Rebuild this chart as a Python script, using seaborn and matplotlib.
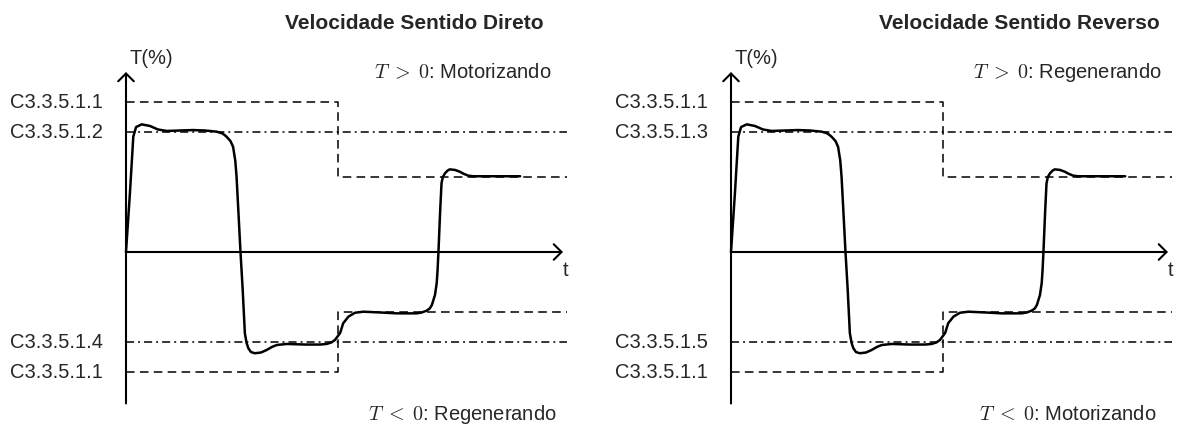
import matplotlib
matplotlib.use("Agg")
import matplotlib.pyplot as plt
import seaborn as sns
import pandas as pd

# --- torque response (t in arbitrary time units, T in %) ---
resp_t = [0.0, 0.9, 1.67, 2.3, 3.6, 5.5, 7.3, 9.3, 12.4, 15.3, 18.1, 20.8, 22.1, 23.0,
          23.9, 24.5, 25.0, 25.3, 25.7, 26.2, 26.7, 27.2, 27.6, 28.0, 28.6, 29.5, 30.9,
          32.2, 33.4, 34.5, 36.8, 41.0, 44.4, 45.9, 47.0, 47.8, 49.0, 49.7, 50.9, 52.4,
          54.3, 58.1, 61.9, 66.5, 67.7, 68.8, 69.5, 70.0, 70.7, 71.1, 71.3, 71.5, 71.9,
          72.2, 72.5, 73.0, 73.6, 74.1, 75.3, 76.4, 77.3, 78.3, 79.5, 90.2]
resp_T = [0.0, 39.3, 76.9, 83.3, 85.1, 84.0, 81.7, 80.7, 81.0, 81.3, 81.0, 80.2, 79.0, 76.9,
          74.0, 70.2, 61.0, 50.2, 28.0, 0.0, -25.0, -54.2, -60.7, -64.2, -66.7, -67.5, -67.0,
          -65.3, -63.3, -62.0, -61.3, -61.7, -61.7, -61.3, -60.3, -58.7, -54.0, -47.5, -43.1, -40.5,
          -39.8, -40.3, -40.9, -40.9, -40.3, -39.1, -37.7, -35.3, -28.7, -20.7, -12.0, 0.2, 28.0,
          45.8, 50.0, 52.5, 54.3, 55.1, 54.7, 53.5, 52.1, 50.9, 50.5, 50.5]

# --- limit levels (%) ---
lim_hi = 100.0        # torque limit, positive side
lim_hi_after = 50.0   # torque limit after the change
ref_hi = 80.0         # dash-dot reference, positive side
lim_lo = -80.0
lim_lo_after = -40.0
ref_lo = -60.0
t_change = 48.5
t_end = 101.0

panels = [
    {"title": "Velocidade Sentido Direto",
     "labels": ["C3.3.5.1.1", "C3.3.5.1.2", "C3.3.5.1.4", "C3.3.5.1.1"],
     "top": "Motorizando", "bottom": "Regenerando"},
    {"title": "Velocidade Sentido Reverso",
     "labels": ["C3.3.5.1.1", "C3.3.5.1.3", "C3.3.5.1.5", "C3.3.5.1.1"],
     "top": "Regenerando", "bottom": "Motorizando"},
]

sns.set_theme(style="white")
plt.rcParams["font.family"] = ["Liberation Sans", "DejaVu Sans"]
plt.rcParams["mathtext.fontset"] = "cm"
plt.rcParams["lines.scale_dashes"] = False

W, H = 1177, 424
PX_T, PX_P = 4.37, 1.5        # pixels per time unit / per percent
ORIGIN_X, ORIGIN_Y = 126, 252
fig = plt.figure(figsize=(W / 100, H / 100), dpi=100)
fig.patch.set_facecolor("white")

DASH = (0, (6.2, 3.8))
DASHDOT = (0, (5.8, 2.9, 1.4, 2.9))
FS = 14.5

for i, p in enumerate(panels):
    left_px = 0 if i == 0 else 605
    width_px = 590 if i == 0 else 572
    ax = fig.add_axes([left_px / W, 0, width_px / W, 1])
    ax.set_xlim(-ORIGIN_X / PX_T, (width_px - ORIGIN_X) / PX_T)
    ax.set_ylim((ORIGIN_Y - H) / PX_P, ORIGIN_Y / PX_P)
    ax.axis("off")

    # limit envelopes (dashed) and references (dash-dot)
    hi = pd.DataFrame({"t": [0, t_change, t_change, t_end],
                       "T": [lim_hi, lim_hi, lim_hi_after, lim_hi_after]})
    lo = pd.DataFrame({"t": [0, t_change, t_change, t_end],
                       "T": [lim_lo, lim_lo, lim_lo_after, lim_lo_after]})
    for df in (hi, lo):
        sns.lineplot(data=df, x="t", y="T", ax=ax, sort=False, estimator=None,
                     color="black", lw=1.1, linestyle=DASH)
    for lvl in (ref_hi, ref_lo):
        sns.lineplot(x=[0, t_end], y=[lvl, lvl], ax=ax, sort=False, estimator=None,
                     color="black", lw=1.1, linestyle=DASHDOT)

    # torque response
    sns.lineplot(x=resp_t, y=resp_T, ax=ax, sort=False, estimator=None,
                 color="black", lw=1.8)

    # axes with arrows
    arrow = dict(arrowstyle="->,head_length=0.28,head_width=0.28", lw=1.5,
                 color="black", shrinkA=0, shrinkB=0, mutation_scale=20)
    ax.annotate("", xy=(0, 120), xytext=(0, -101), arrowprops=arrow)
    ax.annotate("", xy=(100, 0), xytext=(0, 0), arrowprops=arrow)

    ax.text(0.9, 129, "T(%)", fontsize=FS, ha="left", va="center")
    ax.text(100.5, -12.5, "t", fontsize=FS, ha="center", va="center")

    for lvl, lab in zip([lim_hi, ref_hi, ref_lo, lim_lo], p["labels"]):
        ax.text(-5.3, lvl, lab, fontsize=FS, ha="right", va="center")

    ax.text(65.9, 152.5, p["title"], fontsize=15, fontweight="bold",
            ha="center", va="center")
    ax.text(77.0, 119.5, r"$T\;>\;0$: " + p["top"], fontsize=FS,
            ha="center", va="center")
    ax.text(77.0, -108.5, r"$T\;<\;0$: " + p["bottom"], fontsize=FS,
            ha="center", va="center")

fig.savefig("out.png", dpi=100, facecolor="white")
